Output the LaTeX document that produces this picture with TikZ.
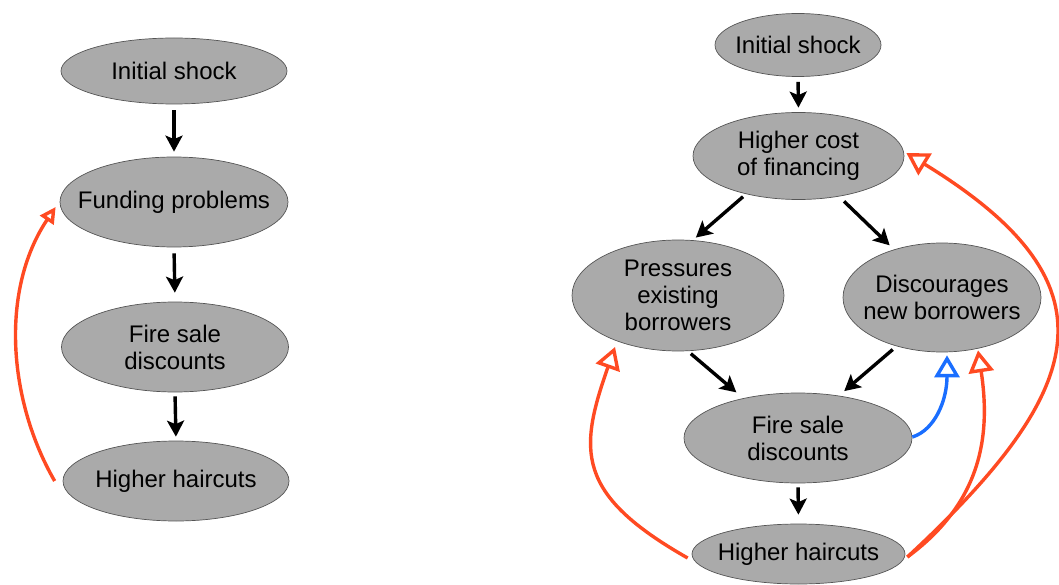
\documentclass[tikz,border=0pt]{standalone}
\usepackage{fontspec}
\setmainfont{Liberation Sans}
\usetikzlibrary{arrows.meta,shapes.geometric}
\definecolor{bubfill}{HTML}{AAAAAA}
\definecolor{bubline}{HTML}{555555}
\definecolor{fbred}{HTML}{FF4A22}
\definecolor{fbblue}{HTML}{1A6EFF}
\tikzset{
  bub/.style={ellipse, draw=bubline, line width=0.7pt, fill=bubfill, inner sep=0pt},
  txt/.style={font=\fontsize{24}{27}\selectfont, align=center, text=black, inner sep=0pt},
  blk/.style={line width=3.4pt, -{Stealth[length=16pt,width=17pt,inset=3.5pt]}},
  fb/.style={draw=fbred, line width=3.4pt, -{Triangle[open,length=22pt,width=25pt]}},
  fbsmall/.style={draw=fbred, line width=3.4pt, -{Triangle[open,length=16pt,width=16pt]}},
  fbb/.style={draw=fbblue, line width=3.4pt, -{Triangle[open,length=22pt,width=25pt]}},
}
\begin{document}
\begin{tikzpicture}[x=1pt,y=-1pt]
\useasboundingbox (0,0) rectangle (1059,585);
% left column
\node[bub, minimum width=226pt, minimum height=66pt, label={[txt]center:Initial shock}] (is1) at (174,71) {};
\node[bub, minimum width=228pt, minimum height=90pt, label={[txt]center:Funding problems}] (fp1) at (174,202) {};
\node[bub, minimum width=227pt, minimum height=90pt, label={[txt]center:{Fire sale\\discounts}}] (fs1) at (175,347) {};
\node[bub, minimum width=226pt, minimum height=80pt, label={[txt]center:Higher haircuts}] (hh1) at (176,481) {};
% right column
\node[bub, minimum width=166pt, minimum height=63pt, label={[txt]center:Initial shock}] (is2) at (798,45) {};
\node[bub, minimum width=211pt, minimum height=87pt, label={[txt]center:{Higher cost\\of financing}}] (hc) at (798.5,156) {};
\node[bub, minimum width=212pt, minimum height=111pt, label={[txt]center:{Pressures\\existing\\borrowers}}] (pr) at (678,295.5) {};
\node[bub, minimum width=198pt, minimum height=109pt, label={[txt]center:{Discourages\\new borrowers}}] (disc) at (942,297.5) {};
\node[bub, minimum width=228pt, minimum height=90pt, label={[txt]center:{Fire sale\\discounts}}] (fs2) at (798,438) {};
\node[bub, minimum width=213pt, minimum height=60pt, label={[txt]center:Higher haircuts}] (hh2) at (798.5,554) {};
% black arrows left
\draw[blk, shorten <=6pt, shorten >=5pt] (is1.south) -- (fp1.north);
\draw[blk, shorten <=6pt, shorten >=9pt] (fp1.south) -- (fs1.north);
\draw[blk, shorten <=4pt, shorten >=4pt] (fs1.south) -- (hh1.north);
% black arrows right
\draw[blk, shorten <=5pt, shorten >=4.5pt] (is2.south) -- (hc.north);
\draw[blk, shorten <=4pt, shorten >=4pt] (hc.216) -- (pr.75);
\draw[blk, shorten <=7pt, shorten >=6pt] (hc.315) -- (disc.135);
\draw[blk, shorten <=4pt, shorten >=9pt] (pr.280) -- (fs2.144);
\draw[blk, shorten <=5pt, shorten >=7pt] (disc.227) -- (fs2.46);
\draw[blk, shorten <=4pt, shorten >=9pt] (fs2.south) -- (hh2.north);
% feedback left
\draw[fbsmall] ([shift={(-8pt,0pt)}]hh1.west) .. controls (8,400) and (0,290) .. ([shift={(-4pt,-5pt)}]fp1.west);
% feedback right
\draw[fb] ([shift={(-4pt,-4pt)}]hh2.west) .. controls (575,494) and (578.7,450.4) .. ([shift={(-63pt,-51.5pt)}]pr.center);
\draw[fb] ([shift={(2pt,-3pt)}]hh2.east) .. controls (985,500) and (990,430) .. ([shift={(36pt,2pt)}]disc.south);
\draw[fb] ([shift={(2pt,-3pt)}]hh2.east) .. controls (1091,387) and (1118.5,283) .. ([shift={(2pt,3pt)}]hc.east);
\draw[fbb] ([shift={(0pt,1pt)}]fs2.east) .. controls (935,430) and (947,400) .. ([shift={(5pt,-3pt)}]disc.south);
\end{tikzpicture}
\end{document}
